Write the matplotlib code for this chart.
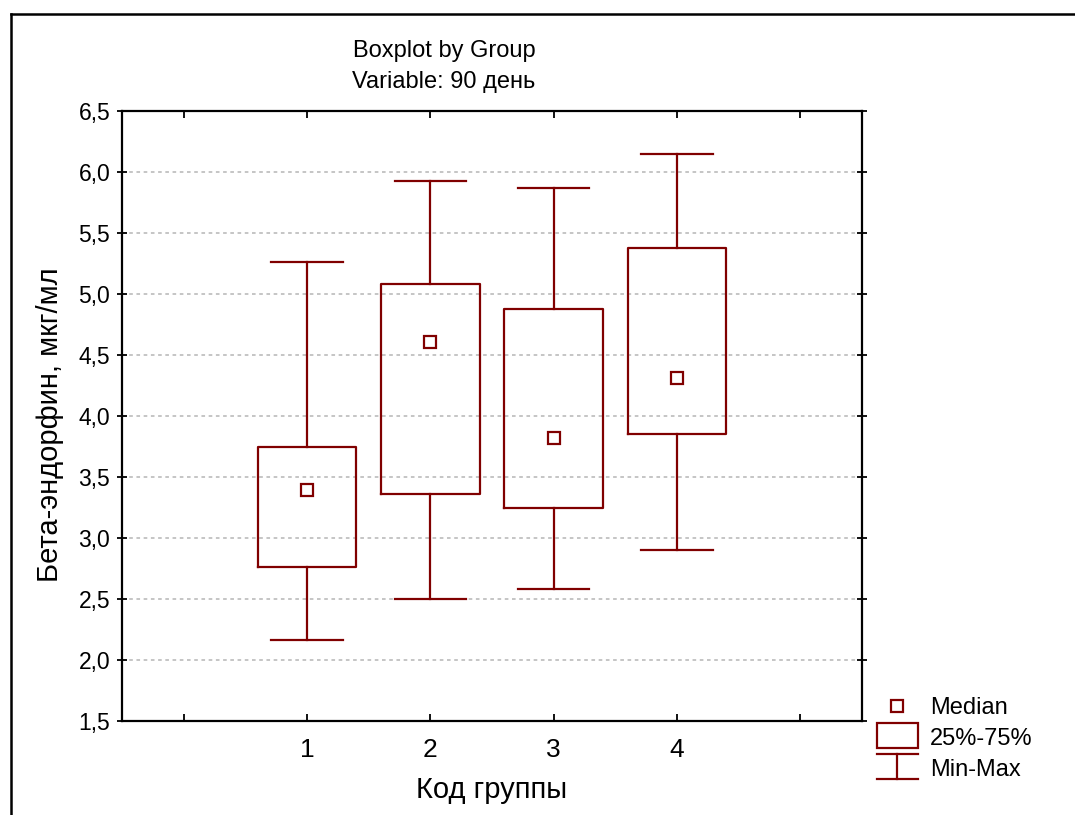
import matplotlib
matplotlib.use("Agg")
import matplotlib.pyplot as plt
from matplotlib.patches import Rectangle
from matplotlib.lines import Line2D

plt.rcParams['font.family'] = ['Liberation Sans', 'DejaVu Sans']

groups = [1, 2, 3, 4]
mins = [2.16, 2.50, 2.58, 2.90]
q1s = [2.76, 3.36, 3.25, 3.85]
medians = [3.39, 4.61, 3.82, 4.31]
q3s = [3.75, 5.08, 4.88, 5.38]
maxs = [5.26, 5.93, 5.87, 6.15]

title_lines = ["Boxplot by Group", "Variable: 90 день"]
xlabel = "Код группы"
ylabel = "Бета-эндорфин, мкг/мл"
yticks = [1.5, 2.0, 2.5, 3.0, 3.5, 4.0, 4.5, 5.0, 5.5, 6.0, 6.5]
legend_labels = ["Median", "25%-75%", "Min-Max"]

col = '#800000'
W, H = 1075, 815
fig = plt.figure(figsize=(W / 100, H / 100), dpi=100)

def fx(px):
    return px / W

def fy(py):
    return 1 - py / H

ax = fig.add_axes([fx(122), fy(721), fx(862) - fx(122), fy(111) - fy(721)])

stats = []
for g, lo, a, m, b, hi in zip(groups, mins, q1s, medians, q3s, maxs):
    stats.append(dict(med=m, q1=a, q3=b, whislo=lo, whishi=hi, fliers=[]))

lw = 1.6
ax.bxp(stats, positions=groups, widths=0.8, capwidths=0.58, showfliers=False,
       boxprops=dict(color=col, linewidth=lw),
       whiskerprops=dict(color=col, linewidth=lw),
       capprops=dict(color=col, linewidth=lw),
       medianprops=dict(linewidth=0), zorder=3)
ax.plot(groups, medians, 's', ms=8, mfc='white', mec=col, mew=1.6, ls='none', zorder=4)

ax.set_xlim(-0.5, 5.5)
ax.set_ylim(1.5, 6.5)
ax.set_xticks([0, 1, 2, 3, 4, 5])
ax.set_xticklabels(['', '1', '2', '3', '4', ''])
ax.set_yticks(yticks)
ax.set_yticklabels([f"{v:.1f}".replace('.', ',') for v in yticks])
ax.tick_params(axis='x', direction='in', top=True, length=5, width=1.3, labelsize=19, pad=12)
ax.tick_params(axis='y', direction='inout', right=True, length=7, width=1.3, labelsize=16.5, pad=5)
for s in ax.spines.values():
    s.set_linewidth(1.6)
ax.yaxis.grid(True, color='#c0c0c0', linestyle=(0, (2, 2)), linewidth=1.3)
ax.set_axisbelow(True)

ax.set_xlabel(xlabel, fontsize=21)
ax.xaxis.set_label_coords(0.5, (721 - 776) / 610)
ax.set_ylabel(ylabel, fontsize=21)
ax.yaxis.set_label_coords((64 - 122) / 740, 0.485)

fig.text(fx(444), fy(57), title_lines[0], ha='center', va='baseline', fontsize=17)
fig.text(fx(444), fy(88), title_lines[1], ha='center', va='baseline', fontsize=17)

# figure frame
fig.add_artist(Line2D([fx(11), fx(11)], [fy(14), 0], color='black', lw=1.8, transform=fig.transFigure))
fig.add_artist(Line2D([fx(11), 1], [fy(14), fy(14)], color='black', lw=1.8, transform=fig.transFigure))

# legend
fig.add_artist(Line2D([fx(897)], [fy(706)], marker='s', ms=8, mfc='white', mec=col, mew=1.6,
                      ls='none', transform=fig.transFigure))
fig.add_artist(Rectangle((fx(877), fy(748)), fx(918) - fx(877), fy(723) - fy(748),
                         fill=False, ec=col, lw=1.6, transform=fig.transFigure))
fig.add_artist(Line2D([fx(877), fx(918)], [fy(754), fy(754)], color=col, lw=1.6, transform=fig.transFigure))
fig.add_artist(Line2D([fx(877), fx(918)], [fy(779), fy(779)], color=col, lw=1.6, transform=fig.transFigure))
fig.add_artist(Line2D([fx(897), fx(897)], [fy(754), fy(779)], color=col, lw=1.6, transform=fig.transFigure))
for lab, py in zip(legend_labels, [714, 745, 776]):
    fig.text(fx(930), fy(py), lab, ha='left', va='baseline', fontsize=17)

fig.savefig('out.png', dpi=100)
